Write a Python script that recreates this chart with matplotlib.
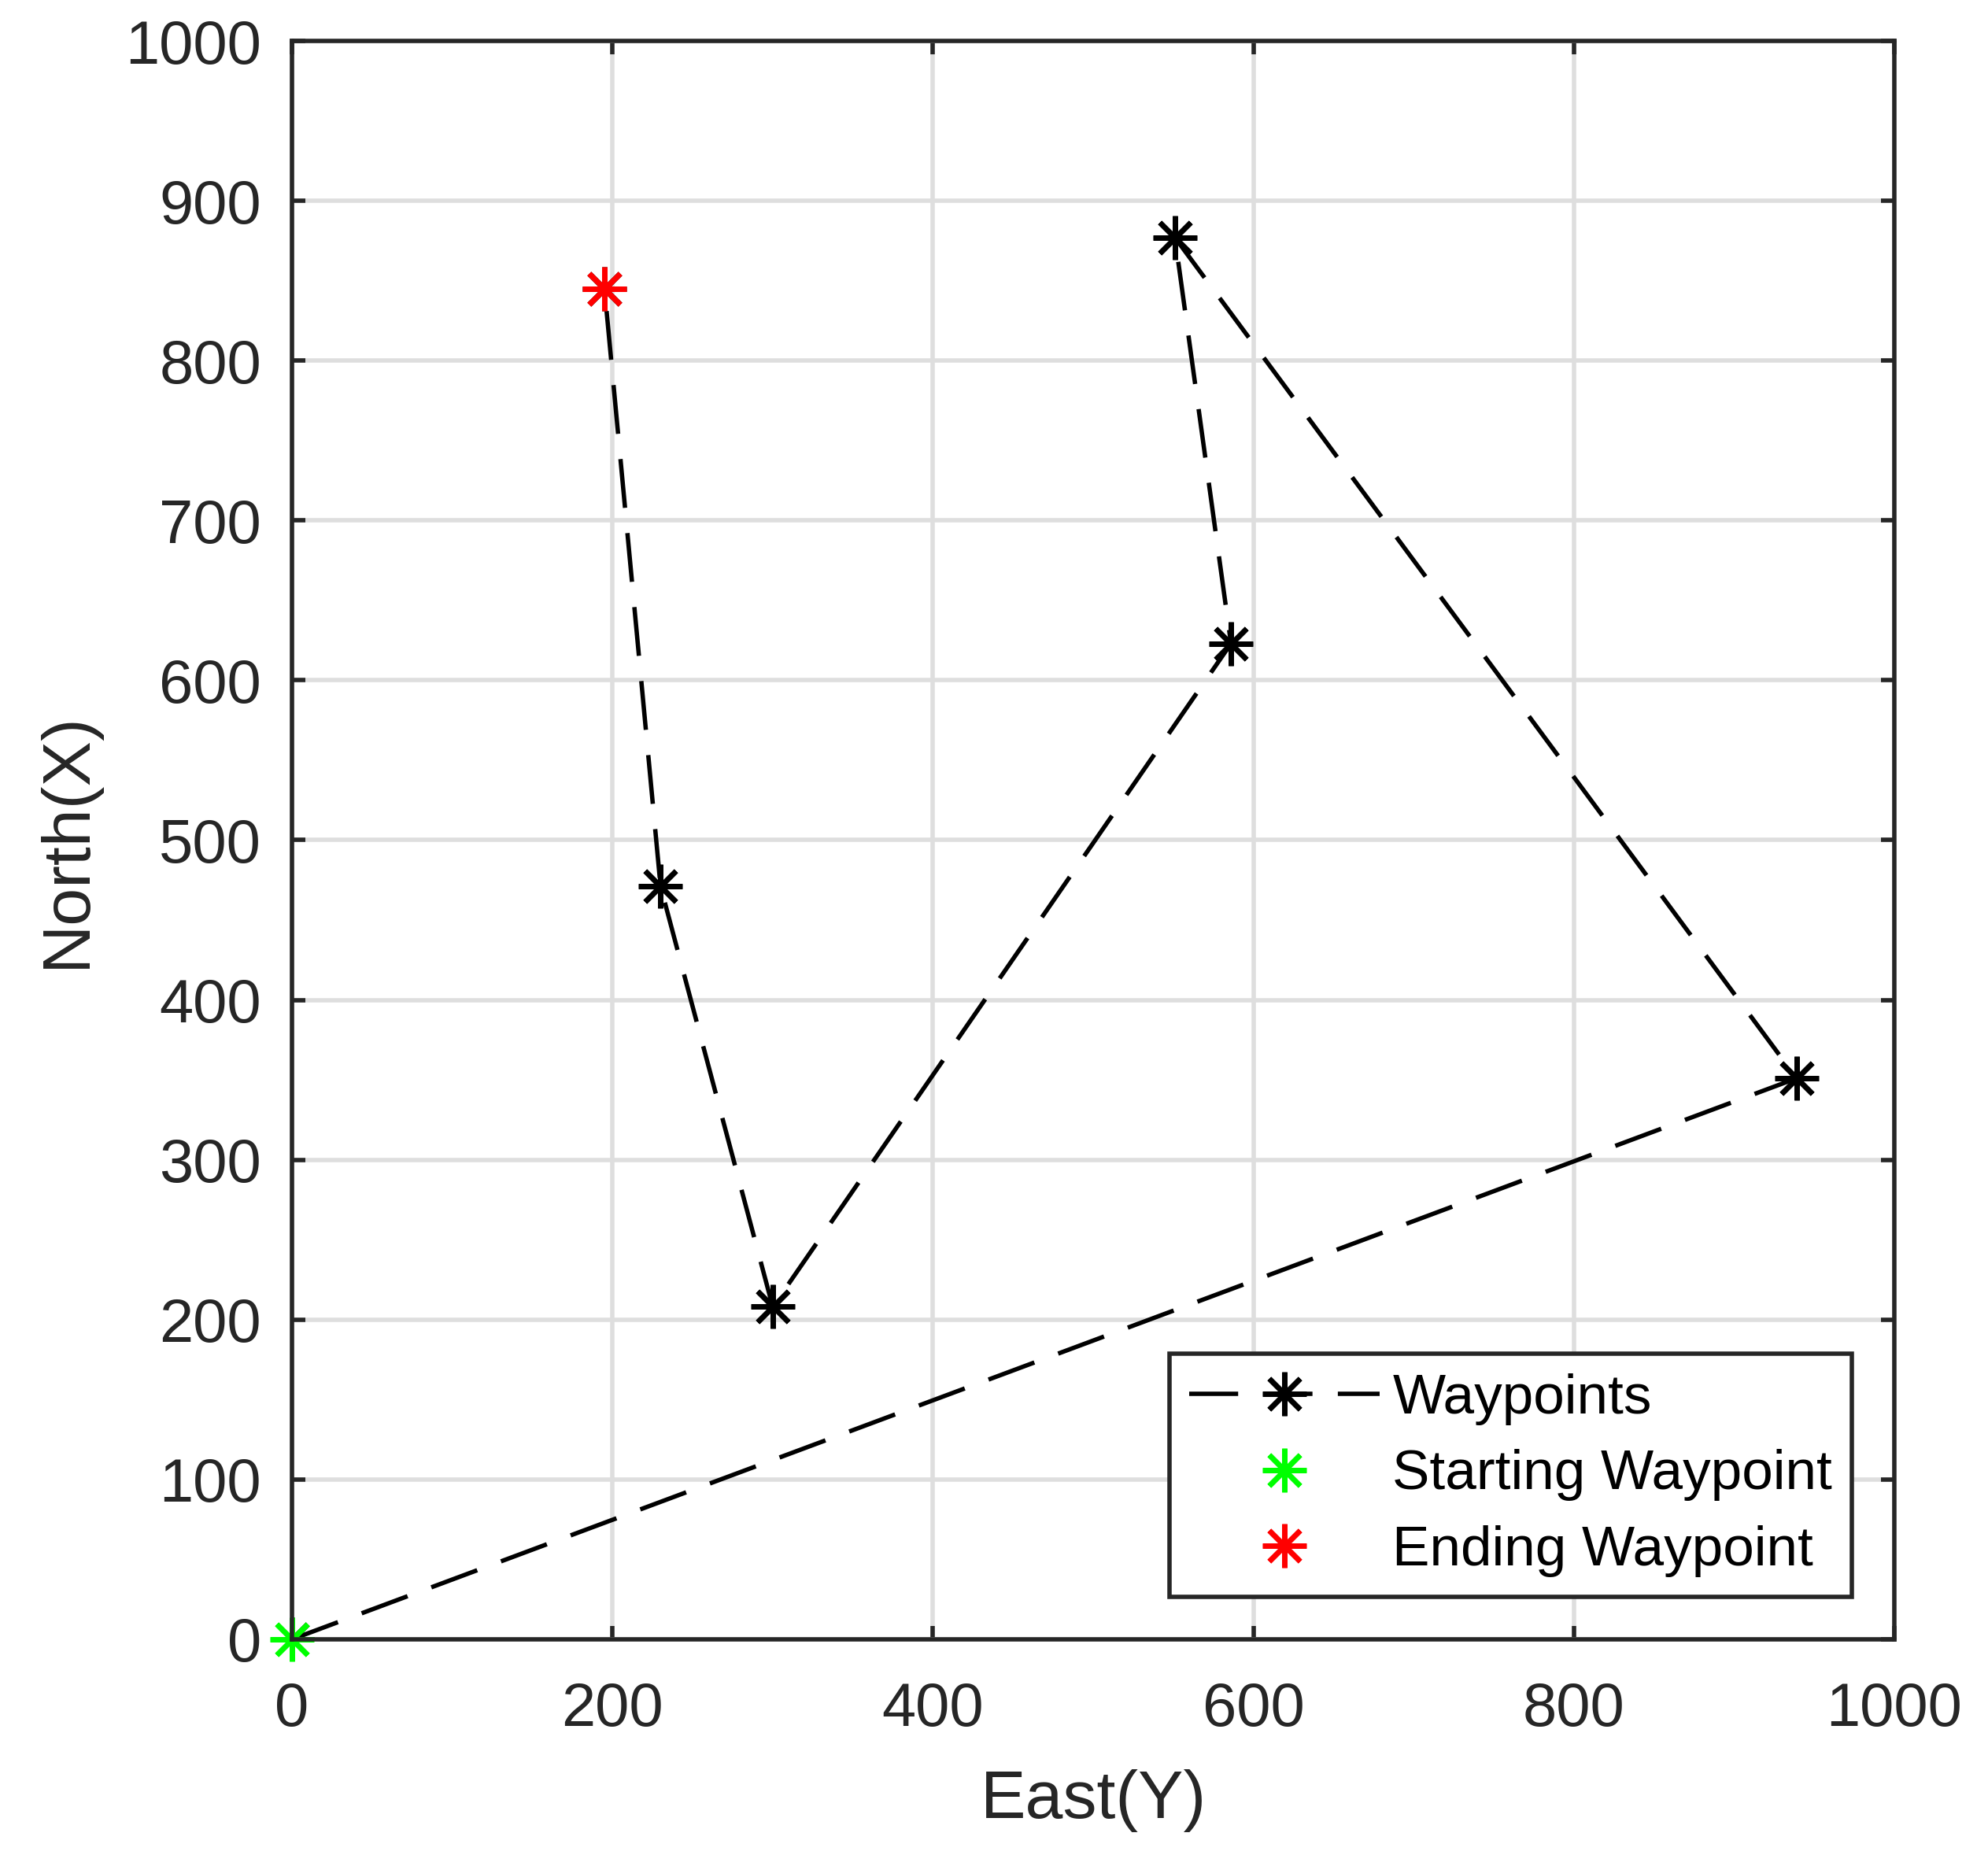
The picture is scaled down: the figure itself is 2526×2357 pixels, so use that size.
import matplotlib
matplotlib.use("Agg")
import matplotlib.pyplot as plt
import numpy as np

plt.rcParams['font.family'] = ['Liberation Sans', 'DejaVu Sans']

# Data (East = Y on horizontal, North = X on vertical)
east = [0, 939, 551, 586, 300, 230, 195]
north = [0, 351, 877, 623, 208, 471, 845]
start_east, start_north = [0], [0]
end_east, end_north = [195], [845]
ticks = [0, 100, 200, 300, 400, 500, 600, 700, 800, 900, 1000]
xticks = [0, 200, 400, 600, 800, 1000]

txt = '#262626'
fig = plt.figure(figsize=(12.63, 11.785), dpi=200)
ax = fig.add_axes([0.1469, 0.1163, 0.9529 - 0.1469, 0.9779 - 0.1163])

ast = (8, 2, 0)
ax.plot(east, north, color='black', lw=2.0, dashes=(11.2, 5.8), marker=ast,
        ms=20, mew=2.4, mec='black', label='Waypoints', zorder=3)
ax.plot(start_east, start_north, ls='none', marker=ast, ms=20, mew=2.4,
        mec='#00ff00', color='#00ff00', label='Starting Waypoint', zorder=4,
        clip_on=False)
ax.plot(end_east, end_north, ls='none', marker=ast, ms=20, mew=2.4,
        mec='#ff0000', color='#ff0000', label='Ending Waypoint', zorder=4)

ax.set_xlim(0, 1000)
ax.set_ylim(0, 1000)
ax.set_xticks(xticks)
ax.set_yticks(ticks)
ax.grid(True, color='#dedede', lw=2.0)
ax.set_axisbelow(True)

for s in ax.spines.values():
    s.set_linewidth(2.0)
    s.set_color(txt)
    s.set_zorder(5)

ax.tick_params(axis='both', direction='in', length=6, width=2.0, colors=txt,
               labelsize=28, top=True, right=True)
ax.tick_params(axis='x', pad=19)
ax.tick_params(axis='y', pad=14)

ax.set_xlabel('East(Y)', fontsize=31, color=txt, labelpad=14)
ax.set_ylabel('North(X)', fontsize=31, color=txt, labelpad=12)

leg = ax.legend(loc='lower right', bbox_to_anchor=(0.9735, 0.0266),
                borderaxespad=0, fontsize=25.6, frameon=True, fancybox=False,
                edgecolor=txt, framealpha=1, handlelength=3.4,
                handletextpad=0.23, labelspacing=0.43, borderpad=0.35)
leg.get_frame().set_linewidth(2.0)
for t in leg.get_texts():
    t.set_color('black')

fig.savefig('out.png', dpi=200)
